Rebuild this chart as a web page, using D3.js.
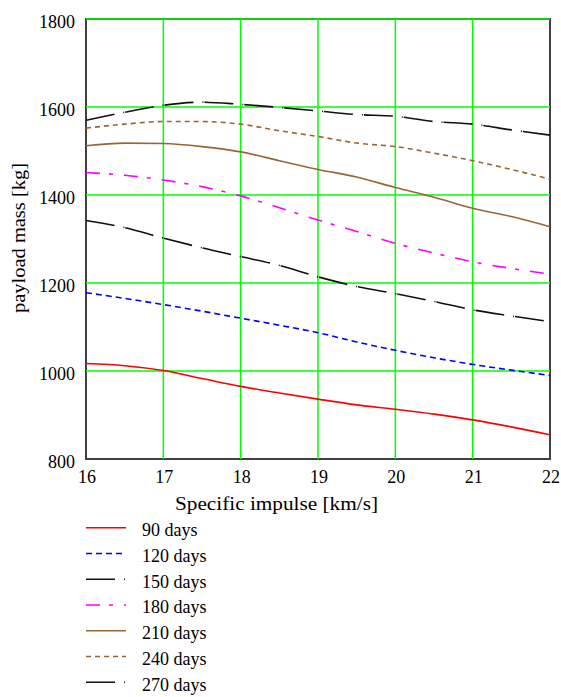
<!DOCTYPE html>
<html>
<head>
<meta charset="utf-8">
<script src="https://cdnjs.cloudflare.com/ajax/libs/d3/7.8.5/d3.min.js"></script>
<style>
  body { margin: 0; background: #fff; }
  svg text { font-family: "Liberation Serif", "DejaVu Serif", serif; fill: #000; }
</style>
</head>
<body>
<svg id="payload" width="561" height="697"></svg>
<script>
//Specific impulse values [km/s]
var impulse = [16, 16.5, 17, 17.5, 18, 18.5, 19, 19.5, 20, 20.5, 21, 21.5, 22];

//Payload mass [kg] for every trip duration
var days90  = [1017, 1012, 1001, 983, 965, 950, 936, 923, 913, 902, 889, 873, 855];
var days120 = [1178, 1165, 1151, 1136, 1120, 1104, 1087, 1066, 1047, 1030, 1015, 1002, 990];
var days150 = [1342, 1326, 1302, 1280, 1260, 1240, 1214, 1192, 1176, 1158, 1139, 1125, 1112];
var days180 = [1451, 1445, 1434, 1419, 1398, 1371, 1343, 1317, 1290, 1268, 1248, 1233, 1220];
var days210 = [1512, 1518, 1517, 1510, 1498, 1478, 1458, 1441, 1417, 1395, 1370, 1351, 1328];
var days240 = [1552, 1561, 1567, 1567, 1561, 1546, 1533, 1518, 1510, 1495, 1478, 1458, 1436];
var days270 = [1570, 1588, 1604, 1611, 1606, 1599, 1591, 1583, 1579, 1567, 1561, 1548, 1536];

var seriesNames = ["90 days", "120 days", "150 days", "180 days", "210 days", "240 days", "270 days"];
var seriesValues = [days90, days120, days150, days180, days210, days240, days270];

var xTicks = [16, 17, 18, 19, 20, 21, 22];
var yTicks = [800, 1000, 1200, 1400, 1600, 1800];

//Line styles of the traces
var traceColor = ["#ff0000", "#0000ff", "#111111", "#ff00ff", "#996633", "#996633", "#111111"];
var traceDash = [null, "6,4", "29,9,1,1", "14,9,4,11", null, "5,4", "29,9,1,1"];

var serif = "'Liberation Serif', 'Times New Roman', serif";

var svg = d3.select("svg#payload");
var margin = { top: 19, right: 11, bottom: 238, left: 86 };
var width = +svg.attr("width") - margin.left - margin.right,
    height = +svg.attr("height") - margin.top - margin.bottom;

var x = d3.scaleLinear().domain([16, 22]).range([margin.left, margin.left + width]);
var y = d3.scaleLinear().domain([800, 1800]).range([margin.top + height, margin.top]);

//Frame of the plot
svg.append("rect")
    .attr("x", x(16))
    .attr("y", y(1800))
    .attr("width", x(22) - x(16))
    .attr("height", y(800) - y(1800))
    .attr("fill", "none")
    .attr("stroke", "#404040")
    .attr("stroke-width", 2);

//Green grid
svg.append("g")
  .selectAll("line")
  .data(xTicks.filter(function (d) { return d > 16 && d < 22; }))
  .enter().append("line")
    .attr("x1", function (d) { return x(d); })
    .attr("x2", function (d) { return x(d); })
    .attr("y1", y(800))
    .attr("y2", y(1800))
    .attr("stroke", "#00ff00")
    .attr("stroke-width", 1.5);

svg.append("g")
  .selectAll("line")
  .data(yTicks.filter(function (d) { return d > 800; }))
  .enter().append("line")
    .attr("x1", x(16))
    .attr("x2", x(22))
    .attr("y1", function (d) { return y(d); })
    .attr("y2", function (d) { return y(d); })
    .attr("stroke", "#00ff00")
    .attr("stroke-width", 1.5);

//Tick labels
svg.append("g")
  .selectAll("text")
  .data(xTicks)
  .enter().append("text")
    .attr("x", function (d) { return x(d) + 1; })
    .attr("y", y(800) + 24)
    .attr("text-anchor", "middle")
    .style("font-family", serif)
    .style("font-size", "18px")
    .text(function (d) { return d; });

svg.append("g")
  .selectAll("text")
  .data(yTicks)
  .enter().append("text")
    .attr("x", x(16) - 11)
    .attr("y", function (d) { return y(d) + 9; })
    .attr("text-anchor", "end")
    .style("font-family", serif)
    .style("font-size", "18px")
    .text(function (d) { return d; });

//Axis titles
svg.append("text")
    .attr("x", 175)
    .attr("y", 510)
    .attr("textLength", 203)
    .attr("lengthAdjust", "spacingAndGlyphs")
    .style("font-family", serif)
    .style("font-size", "18px")
    .text("Specific impulse [km/s]");

svg.append("text")
    .attr("transform", "translate(25," + 238 + ") rotate(-90)")
    .attr("text-anchor", "middle")
    .attr("textLength", 150)
    .attr("lengthAdjust", "spacingAndGlyphs")
    .style("font-family", serif)
    .style("font-size", "18px")
    .text("payload mass [kg]");

//Traces
var line = d3.line()
    .x(function (d, i) { return x(impulse[i]); })
    .y(function (d) { return y(d); })
    .curve(d3.curveMonotoneX);

svg.append("g")
  .selectAll("path")
  .data(seriesValues)
  .enter().append("path")
    .attr("d", line)
    .attr("fill", "none")
    .attr("stroke", function (d, i) { return traceColor[i]; })
    .attr("stroke-width", 1.6)
    .attr("stroke-dasharray", function (d, i) { return traceDash[i]; });

//Legend below the plot
var legend = svg.append("g")
  .selectAll("g")
  .data(seriesNames)
  .enter().append("g")
    .attr("transform", function (d, i) { return "translate(0," + (527.7 + i * 25.75) + ")"; });

legend.append("line")
    .attr("x1", 86)
    .attr("x2", 126)
    .attr("stroke", function (d, i) { return traceColor[i]; })
    .attr("stroke-width", 1.6)
    .attr("stroke-dasharray", function (d, i) { return traceDash[i]; });

legend.append("text")
    .attr("x", 142)
    .attr("y", 8.5)
    .style("font-family", serif)
    .style("font-size", "18px")
    .text(function (d) { return d; });
</script>
</body>
</html>
